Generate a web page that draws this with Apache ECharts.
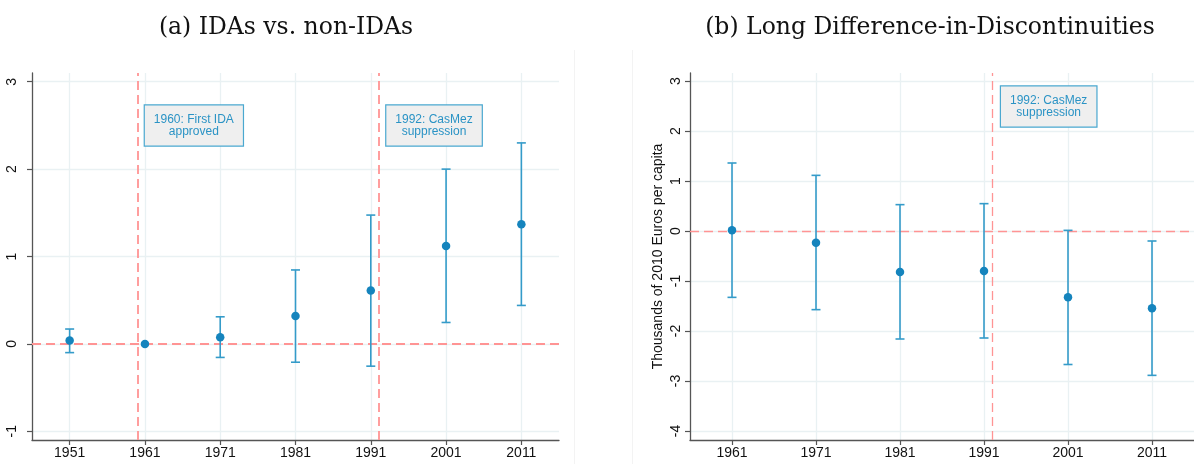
<!DOCTYPE html>
<html>
<head>
<meta charset="utf-8">
<script src="https://cdn.jsdelivr.net/npm/echarts@6/dist/echarts.min.js"></script>
<style>html,body{margin:0;padding:0;background:#fff}#c{width:1194px;height:464px}</style>
</head>
<body>
<div id="c"></div>
<script>
// ---- Data ----
const titleA = '(a) IDAs vs. non-IDAs';
const titleB = '(b) Long Difference-in-Discontinuities';
const yNameB = 'Thousands of 2010 Euros per capita';

const idaYears = [1951, 1961, 1971, 1981, 1991, 2001, 2011];
const idaCoef  = [0.04, 0.0, 0.077, 0.32, 0.61, 1.12, 1.37];
const idaLower = [-0.10, null, -0.155, -0.21, -0.255, 0.245, 0.44];
const idaUpper = [0.17, null, 0.31, 0.846, 1.474, 2.0, 2.30];
const idaYTicks = [-1, 0, 1, 2, 3];
const idaEvents = [1960, 1992];
const idaNotes = [
  { x: 1967.5, y: 2.5, text: '1960: First IDA\napproved' },
  { x: 1999.4, y: 2.5, text: '1992: CasMez\nsuppression' }
];

const ldYears = [1961, 1971, 1981, 1991, 2001, 2011];
const ldCoef  = [0.013, -0.233, -0.82, -0.80, -1.327, -1.547];
const ldLower = [-1.327, -1.573, -2.16, -2.14, -2.67, -2.887];
const ldUpper = [1.36, 1.113, 0.527, 0.547, 0.013, -0.2];
const ldYTicks = [-4, -3, -2, -1, 0, 1, 2, 3];
const ldEvents = [1992];
const ldNotes = [
  { x: 1998.7, y: 2.49, text: '1992: CasMez\nsuppression' }
];

// ---- Styles ----
const AXIS = '#555';
const GRIDC = '#e9f1f3';
const DOT = '#1584bd';
const BAR = '#349bc9';
const RED = '#ff9494';
const LABEL = { fontFamily: 'Liberation Sans, Arial, sans-serif', fontSize: 14, color: '#111' };

function xAxisCfg(gi, min, max, ticks) {
  return {
    gridIndex: gi, type: 'value', min: min, max: max,
    axisLine: { onZero: false, lineStyle: { color: AXIS, width: 1.3 } },
    axisTick: { length: 5, customValues: ticks, lineStyle: { color: AXIS, width: 1.2 } },
    axisLabel: Object.assign({ customValues: ticks, margin: 6, formatter: v => String(v) }, LABEL),
    splitLine: { show: true, lineStyle: { color: GRIDC, width: 1.3 } }
  };
}
function yAxisCfg(gi, min, max, ticks, margin, name) {
  const c = {
    gridIndex: gi, type: 'value', min: min, max: max,
    axisLine: { show: true, onZero: false, lineStyle: { color: AXIS, width: 1.3 } },
    axisTick: { show: true, length: 5, customValues: ticks, lineStyle: { color: AXIS, width: 1.2 } },
    axisLabel: Object.assign({ customValues: ticks, margin: margin, rotate: 90, formatter: v => String(v) }, LABEL),
    splitLine: { show: true, lineStyle: { color: GRIDC, width: 1.3 } }
  };
  if (name) {
    c.name = name; c.nameLocation = 'middle'; c.nameGap = 25;
    c.nameTextStyle = { fontFamily: LABEL.fontFamily, fontSize: 14, color: '#111' };
  }
  return c;
}

function errData(xs, lo, hi) {
  const out = [];
  xs.forEach((x, i) => { if (lo[i] != null && hi[i] != null) out.push([x, lo[i], hi[i]]); });
  return out;
}
function renderErr(params, api) {
  const p1 = api.coord([api.value(0), api.value(1)]);
  const p2 = api.coord([api.value(0), api.value(2)]);
  const hw = 4.5;
  const st = { stroke: BAR, lineWidth: 1.6 };
  return {
    type: 'group',
    children: [
      { type: 'line', shape: { x1: p1[0], y1: p1[1], x2: p2[0], y2: p2[1] }, style: st },
      { type: 'line', shape: { x1: p1[0] - hw, y1: p1[1], x2: p1[0] + hw, y2: p1[1] }, style: st },
      { type: 'line', shape: { x1: p2[0] - hw, y1: p2[1], x2: p2[0] + hw, y2: p2[1] }, style: st }
    ]
  };
}
function refSeries(gi, events, notes, lw, dash) {
  return {
    type: 'line', xAxisIndex: gi, yAxisIndex: gi, data: [], z: 1, silent: true,
    markLine: {
      z: 1, silent: true, symbol: ['none', 'none'], animation: false,
      label: { show: false },
      lineStyle: { color: RED, width: lw, type: dash },
      data: events.map(e => ({ xAxis: e })).concat([{ yAxis: 0 }])
    },
    markPoint: {
      z: 6, silent: true, symbol: 'rect', symbolSize: 1, animation: false,
      itemStyle: { color: 'rgba(0,0,0,0)' },
      label: {
        show: true, position: 'inside', align: 'center', verticalAlign: 'middle',
        fontFamily: LABEL.fontFamily, fontSize: 12, lineHeight: 12, color: '#2a93c5',
        backgroundColor: '#efefef', borderColor: '#4aa8d0', borderWidth: 1.2,
        padding: [8, 9, 8, 9],
        formatter: p => p.data.name
      },
      data: notes.map(n => ({ coord: [n.x, n.y], name: n.text }))
    }
  };
}

const TITLE_STYLE = { fontFamily: 'DejaVu Serif, serif', fontWeight: 'normal', fontSize: 23.5, color: '#111' };
const chart = echarts.init(document.getElementById('c'), null, { renderer: 'canvas' });
chart.setOption({
  animation: false,
  backgroundColor: '#fff',
  title: [
    { text: titleA, left: 281, top: 11, textAlign: 'center', textStyle: TITLE_STYLE },
    { text: titleB, left: 925, top: 11, textAlign: 'center', textStyle: TITLE_STYLE }
  ],
  graphic: [
    { type: 'line', shape: { x1: 574.5, y1: 50, x2: 574.5, y2: 464 }, style: { stroke: '#f3f3f3', lineWidth: 1 }, silent: true },
    { type: 'line', shape: { x1: 632.5, y1: 50, x2: 632.5, y2: 464 }, style: { stroke: '#f3f3f3', lineWidth: 1 }, silent: true }
  ],
  grid: [
    { left: 32, right: 635, top: 73, bottom: 24 },
    { left: 690, right: -10, top: 73, bottom: 24 }
  ],
  xAxis: [
    xAxisCfg(0, 1946, 2016, idaYears),
    xAxisCfg(1, 1956, 2016, ldYears)
  ],
  yAxis: [
    yAxisCfg(0, -1.1, 3.1, idaYTicks, 13),
    yAxisCfg(1, -4.18, 3.16, ldYTicks, 7, yNameB)
  ],
  series: [
    refSeries(0, idaEvents, idaNotes, 1.8, [9, 5]),
    refSeries(1, ldEvents, ldNotes, 1.3, [9, 5]),
    { type: 'custom', xAxisIndex: 0, yAxisIndex: 0, z: 2, renderItem: renderErr,
      data: errData(idaYears, idaLower, idaUpper), encode: { x: 0, y: [1, 2] } },
    { type: 'custom', xAxisIndex: 1, yAxisIndex: 1, z: 2, renderItem: renderErr,
      data: errData(ldYears, ldLower, ldUpper), encode: { x: 0, y: [1, 2] } },
    { type: 'scatter', xAxisIndex: 0, yAxisIndex: 0, z: 3, symbolSize: 8.5,
      itemStyle: { color: DOT, opacity: 1 },
      data: idaYears.map((y, i) => [y, idaCoef[i]]) },
    { type: 'scatter', xAxisIndex: 1, yAxisIndex: 1, z: 3, symbolSize: 8.5,
      itemStyle: { color: DOT, opacity: 1 },
      data: ldYears.map((y, i) => [y, ldCoef[i]]) }
  ]
});
</script>
</body>
</html>
